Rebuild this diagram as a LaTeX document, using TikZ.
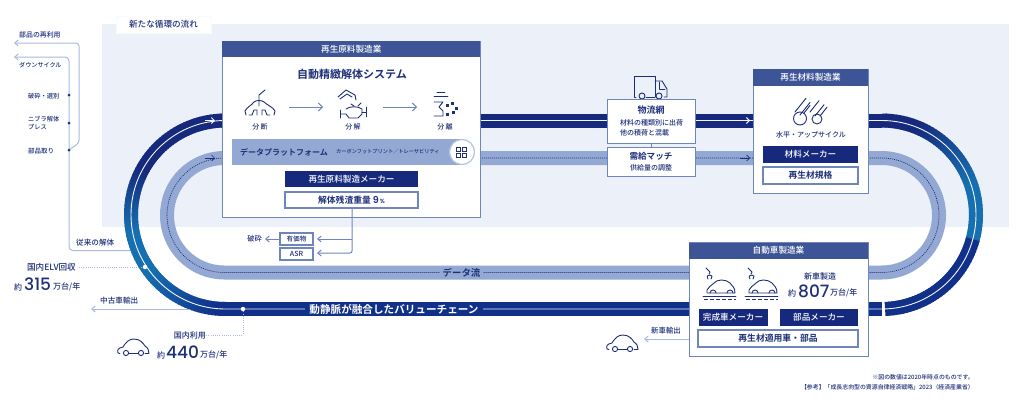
\documentclass[tikz,border=0pt]{standalone}
\usepackage{fontspec}
\setmainfont{Noto Sans CJK JP}[UprightFont=* Medium, BoldFont=* Bold]
\newfontfamily\numfont{Poppins}[UprightFont=* Medium, BoldFont=* SemiBold]
\usetikzlibrary{arrows.meta}

\definecolor{palebg}{HTML}{EBF0F9}
\definecolor{navytop}{HTML}{16297C}
\definecolor{navybot}{HTML}{10308A}
\definecolor{bluearc}{HTML}{1670B0}
\definecolor{midband}{HTML}{93A9D4}
\definecolor{headblue}{HTML}{3D5596}
\definecolor{edgeblue}{HTML}{6F86BB}
\definecolor{thinblue}{HTML}{A9B8DE}
\definecolor{txtnavy}{HTML}{1D2F78}

\def\fs#1{\fontsize{#1}{#1}\selectfont}

\tikzset{
  lab/.style={text=txtnavy, inner sep=0pt},
  plantbox/.style={draw=edgeblue, fill=white, line width=1pt},
  headbar/.style={fill=headblue, inner sep=0pt, text=white, font=\fs{8.6}},
  darkbox/.style={fill=navytop, inner sep=0pt, text=white, font=\fs{8.6}},
  whitebox/.style={draw=edgeblue, fill=white, line width=1.2pt, inner sep=0pt, text=txtnavy, font=\fs{8.8}\bfseries},
  iconline/.style={draw=txtnavy, line width=0.9pt, line cap=round, line join=round},
  thinline/.style={draw=thinblue, line width=1pt},
  thinarrow/.style={thinline, -{Straight Barb[length=3.5pt,width=6pt]}},
  dotline/.style={draw=thinblue, line width=1pt, dash pattern=on 1pt off 1.2pt},
  flowarrow/.style={draw=edgeblue, line width=1pt, -{Straight Barb[length=4pt,width=8pt]}},
  band/.style={line width=14pt},
  whiteline/.style={draw=white!85!thinblue, line width=0.9pt},
  dataline/.style={draw=txtnavy, line width=0.7pt, dash pattern=on 1pt off 1pt},
  bigdot/.style={circle, fill=white, inner sep=0pt, minimum size=4.5pt},
  smalldot/.style={circle, fill=txtnavy, inner sep=0pt, minimum size=3pt},
  pics/carside/.style={code={
    \draw[iconline] (3,15.5) -- (1,15) .. controls (0,12) and (1,10) .. (6,9)
       .. controls (9,4) and (12,1) .. (17,1) .. controls (23,1) and (26,5) .. (28,8)
       .. controls (31,10) and (32,12) .. (32,15.5) -- (28,15.5);
    \draw[iconline] (12,15) -- (21,15);
    \draw[iconline] (9,15) circle (2.6);
    \draw[iconline] (24,15) circle (2.6);
  }},
  pics/carbuild/.style={code={
    % arm
    \draw[iconline] (3,0) -- (7,4) -- (6,6);
    \draw[iconline] (5,11) .. controls (3,8) and (5,7) .. (7,7) .. controls (9,7) and (10,9) .. (8,11);
    % car
    \draw[iconline] (4,25) -- (4,22) .. controls (5,19) and (8,18) .. (11,15)
       .. controls (14,11) and (23,11) .. (27,15) .. controls (29,18) and (32,19) .. (32,25) -- (4,25);
    \draw[iconline] (7,25) arc (180:360:3);
    \draw[iconline] (24,25) arc (180:360:3);
    % line
    \draw[iconline] (0,28) -- (33,28);
    \draw[iconline, line cap=butt, dash pattern=on 4pt off 2pt] (1,31) -- (33,31);
  }}
}

\begin{document}
\begin{tikzpicture}[x=1pt, y=-1pt]
    \useasboundingbox (0,0) rectangle (1024,402);

    \def\cyo{214.75};
    \def\ro{94.25};
    \def\cxl{225.25};
    \def\cxr{881.75};

% new flow area
    \fill[palebg] (102,24) rectangle (1009,227);
    \node[draw=white!70!palebg, fill=white, line width=1pt, minimum width=95pt, minimum height=17pt, inner sep=0pt,
          text=txtnavy, font=\fs{8.6}] (flowtag) at (163.5,24.5) {新たな循環の流れ};

% old lines on the left
    \coordinate (reuseEnd) at (14,43);
    \coordinate (downEnd) at (14,57);
    \coordinate (bendTop) at (79,43);
    \coordinate (bendLow) at (79,143);
    \coordinate (partsDot) at (69,150);
    \coordinate (crushDot) at (69,95);
    \coordinate (nibDot) at (69,123);
    \coordinate (downCorner) at (69,57);
    \coordinate (oldCorner) at (69,250.5);
    \coordinate (oldEnd) at (130,250.5);

    \draw[thinarrow, rounded corners=3pt] (partsDot) -- (bendLow) -- (bendTop) -- (reuseEnd);
    \draw[thinarrow, rounded corners=4pt] (oldEnd) -- (oldCorner) -- (downCorner) -- (downEnd);

% outer loop
    \draw[band, navytop] (\cxl,120.5) -- (\cxr,120.5);
    \draw[band, navybot] (\cxl,309) -- (\cxr,309);
    \foreach \ang in {-90,-88,...,14} {
      \pgfmathsetmacro\mixv{max(0,min(100,(-\ang-20)*2))}
      \draw[band, navytop!\mixv!bluearc]
        ({\cxr+\ro*cos(\ang)},{\cyo+\ro*sin(\ang)}) -- ({\cxr+\ro*cos(\ang+3)},{\cyo+\ro*sin(\ang+3)});
    }
    \foreach \ang in {88,86,...,17} {
      \draw[band, navybot]
        ({\cxr+\ro*cos(\ang)},{\cyo+\ro*sin(\ang)}) -- ({\cxr+\ro*cos(\ang-3)},{\cyo+\ro*sin(\ang-3)});
    }
    \foreach \ang in {-90,-88,...,88} {
      \pgfmathsetmacro\mixa{max(0,min(100,(-\ang+10)*2.5))}
      \pgfmathsetmacro\mixb{max(0,min(100,(\ang-35)*2))}
      \colorlet{arcnow}{navytop!\mixa!bluearc}
      \draw[band, navybot!\mixb!arcnow]
        ({\cxl-\ro*cos(\ang)},{\cyo+\ro*sin(\ang)}) -- ({\cxl-\ro*cos(\ang+3)},{\cyo+\ro*sin(\ang+3)});
    }
    \draw[whiteline, rounded corners=94.25pt] (131,120.5) rectangle (976,309);

% inner loop
    \draw[band, midband, rounded corners=57.25pt] (167,158) rectangle (939,272.5);
    \draw[dataline, rounded corners=57.25pt] (167,158) rectangle (939,272.5);

% arrows on the loops
    \coordinate (outAa) at (205,120.5);
    \coordinate (outAb) at (215,120.5);
    \coordinate (outBa) at (740,120.5);
    \coordinate (outBb) at (750,120.5);
    \coordinate (innAa) at (205,158);
    \coordinate (innAb) at (215,158);
    \coordinate (innBa) at (740,158);
    \coordinate (innBb) at (750,158);
    \draw[draw=white!85!thinblue, line width=0.9pt, -{Straight Barb[length=3pt,width=6pt]}] (outAa) -- (outAb);
    \draw[draw=white!85!thinblue, line width=0.9pt, -{Straight Barb[length=3pt,width=6pt]}] (outBa) -- (outBb);
    \draw[draw=txtnavy, line width=0.6pt, -{Straight Barb[length=3pt,width=6pt]}] (innAa) -- (innAb);
    \draw[draw=txtnavy, line width=0.6pt, -{Straight Barb[length=3pt,width=6pt]}] (innBa) -- (innBb);

% flow names
    \node[fill=midband, inner xsep=3pt, inner ysep=0pt, text=txtnavy, font=\fs{9.4}\bfseries, text height=8.5pt, text depth=1pt] (dataname) at (461.5,272.5) {データ流};
    \node[fill=navybot, inner xsep=4pt, inner ysep=0pt, text=white, font=\fs{10.6}\bfseries, text height=9.5pt, text depth=1pt] (chainname) at (394,309) {動静脈が融合したバリューチェーン};

% left labels
    \node[lab, font=\fs{6.9}, anchor=west] (reuse) at (19,35) {部品の再利用};
    \node[lab, font=\fs{6.1}, anchor=west] (down) at (19,65) {ダウンサイクル};
    \node[lab, font=\fs{6.2}, anchor=west] (crush) at (28,96) {破砕・選別};
    \node[lab, font=\fs{6.2}, anchor=west, align=left] (nibler) at (28,123) {ニブラ解体\\[2pt]プレス};
    \node[lab, font=\fs{6.5}, anchor=west] (parts) at (28,151) {部品取り};
    \node[lab, font=\fs{7.6}, anchor=west] (oldway) at (76,243) {従来の解体};
    \node[smalldot] (crushmark) at (crushDot) {};
    \node[smalldot] (nibmark) at (nibDot) {};
    \node[smalldot] (partsmark) at (partsDot) {};

% domestic numbers
    \node[bigdot] (elvdot) at (145,267) {};
    \node[bigdot] (usedot) at (243,309) {};
    \node[lab, font=\fs{8.6}, anchor=east] (elv) at (76,267) {国内ELV回収};
    \draw[dotline] (elv.east)++(3,0) -- (elvdot);
    \node[lab, font=\fs{8}, anchor=west] (elvyaku) at (14,287) {約};
    \node[lab, font=\fs{17}\numfont, anchor=west] (elvnum) at (24,284) {315};
    \node[lab, font=\fs{8}, anchor=west] (elvunit) at (53,287) {万台/年};

    \coordinate (exportStart) at (190,309);
    \coordinate (exportEnd) at (91,309);
    \draw[thinarrow] (exportStart) -- (exportEnd);
    \node[lab, font=\fs{7.6}, anchor=west] (usedexp) at (100,301) {中古車輸出};

    \coordinate (useCorner) at (243,335);
    \node[lab, font=\fs{8}, anchor=east] (domuse) at (206,335) {国内利用};
    \draw[dotline] (usedot) -- (useCorner) -- (domuse.east);
    \pic at (117,338) {carside};
    \node[lab, font=\fs{8}, anchor=west] (useyaku) at (157,355) {約};
    \node[lab, font=\fs{17}\numfont, anchor=west] (usenum) at (166,352) {440};
    \node[lab, font=\fs{8}, anchor=west] (useunit) at (200,355) {万台/年};

% raw material plant
    \draw[plantbox] (222.5,41) rectangle (480,217);
    \coordinate (rawdrop) at (352,208);
    \coordinate (rawbend) at (352,253);
    \coordinate (valuable) at (352,239);
    \coordinate (valEnd) at (317,239);
    \coordinate (asrEnd) at (317,253);
    \coordinate (crushEnd) at (265,239);
    \draw[thinarrow, draw=edgeblue, rounded corners=2pt] (rawdrop) -- (rawbend) -- (asrEnd);
    \draw[thinarrow, draw=edgeblue] (valuable) -- (valEnd);

    \node[headbar, minimum width=258pt, minimum height=16.5pt] (rawhead) at (351.25,49) {再生原料製造業};
    \node[lab, font=\fs{11}\bfseries] (autotitle) at (352,74) {自動精緻解体システム};

    \node[lab, font=\fs{7}] (cutlab) at (260,127) {分\,断};
    \node[lab, font=\fs{7}] (splitlab) at (353,127) {分\,解};
    \node[lab, font=\fs{7}] (sortlab) at (445,127) {分\,離};
    \coordinate (stepAa) at (289,107);
    \coordinate (stepAb) at (323,107);
    \coordinate (stepBa) at (383,107);
    \coordinate (stepBb) at (417,107);
    \draw[flowarrow] (stepAa) -- (stepAb);
    \draw[flowarrow] (stepBa) -- (stepBb);

% cut icon
    \draw[iconline] (265,90) -- (259,95) -- (259,106);
    \draw[iconline] (246,115) -- (245,111) .. controls (247,107) and (252,105) .. (254,102) .. controls (256,100) and (262,100) .. (264,102)
        .. controls (267,105) and (273,107) .. (275,111) -- (274,115);
    \draw[iconline] (249,115) -- (252,115) -- (254,110) -- (257,110) -- (257,115);
    \draw[iconline] (270,115) -- (267,115) -- (265,110) -- (262,110) -- (262,115);

% split icon
    \draw[iconline] (338,97) -- (346,90) -- (355,95) -- (356,100);
    \draw[iconline] (340,99) -- (347,94) -- (352,97);
    \draw[iconline] (346,109) .. controls (350,106) and (358,106) .. (362,109) -- (362,114) -- (358,118) -- (349,118) -- (346,114) -- (341,114);
    \draw[iconline] (340,110) -- (340,118);
    \draw[iconline] (366,107) -- (366,117) (362,112) -- (366,112);
    \draw[iconline] (351,104) -- (354,106) (361,103) -- (358,106);

% sort icon
    \draw[iconline] (437,92) -- (445,92);
    \draw[iconline] (434,96) -- (448,96);
    \draw[iconline] (434,102) -- (443,102) -- (439,107) -- (443,111) -- (443,116) -- (434,116);
    \foreach \qx/\qy in {447/105, 452/103, 456/108, 447/114, 453/112} {
      \fill[txtnavy] (\qx-1.5,\qy-1.5) rectangle (\qx+1.5,\qy+1.5);
    }

% data platform
    \fill[midband] (232,139) rectangle (462,165);
    \node[circle, draw=midband!70!white, fill=white, line width=1.2pt, minimum size=25pt, inner sep=0pt] (qrring) at (462,152) {};
    \node[lab, font=\fs{8}\bfseries, anchor=west] (platform) at (240,152) {データプラットフォーム};
    \node[lab, font=\fs{5.2}, anchor=west] (carbon) at (336,152) {カーボンフットプリント／トレーサビリティ};
    \foreach \qx/\qy in {458/149, 464/149, 458/155, 464/155} {
      \draw[txtnavy, line width=0.9pt] (\qx-2,\qy-2) rectangle (\qx+2,\qy+2);
    }

    \node[darkbox, minimum width=133pt, minimum height=16pt] (rawmaker) at (351.5,179) {再生原料製造メーカー};
    \node[whitebox, minimum width=133pt, minimum height=16pt] (residue) at (351.5,200) {解体残渣重量\ \fs{9.5}\numfont\bfseries 9\fs{6}\,\%};

    \node[whitebox, font=\fs{6.6}, minimum width=33pt, minimum height=12pt] (valbox) at (296.5,239) {有価物};
    \node[whitebox, font=\fs{7}\mdseries, minimum width=33pt, minimum height=12pt] (asrbox) at (296.5,254) {ASR};
    \node[lab, font=\fs{7.2}, anchor=east] (crushlab) at (262,239) {破砕};
    \draw[thinarrow, draw=edgeblue] (valbox) -- (crushEnd);

% logistics
    \draw[iconline] (636,97) -- (634.5,97) -- (634.5,76.5) -- (655,76.5) -- (655,97);
    \draw[iconline] (655,81) -- (662,81) -- (667,89) -- (667,97) -- (664,97);
    \draw[iconline] (659,82) -- (659,89) -- (665,89);
    \draw[iconline] (646,97) -- (655,97);
    \node[circle, iconline, fill=palebg, inner sep=0pt, minimum size=6pt] (wheelA) at (642,96) {};
    \node[circle, iconline, fill=palebg, inner sep=0pt, minimum size=6pt] (wheelB) at (659,96) {};

    \node[plantbox, minimum width=88pt, minimum height=44pt, inner sep=0pt] (logibox) at (651,121) {};
    \node[plantbox, minimum width=88pt, minimum height=29pt, inner sep=0pt] (matchbox) at (651,161.5) {};
    \draw[edgeblue, line width=1pt] (logibox) -- (matchbox);
    \node[lab, font=\fs{9}\bfseries] (logititle) at (651,110) {物流網};
    \node[lab, font=\fs{7}, anchor=west, align=left] (logitext) at (620,128) {材料の種類別に出荷\\[2.5pt]他の積荷と混載};
    \node[lab, font=\fs{8.6}\bfseries] (matchtitle) at (651,156.5) {需給マッチ};
    \node[lab, font=\fs{7}] (matchtext) at (651,168) {供給量の調整};

% recycled material plant
    \draw[plantbox] (753,69) rectangle (868,193);
    \node[headbar, minimum width=115pt, minimum height=17pt] (mathead) at (810.5,77.5) {再生材料製造業};
    \node[circle, iconline, inner sep=0pt, minimum size=13pt] (tubeA) at (800,118.5) {};
    \node[circle, iconline, inner sep=0pt, minimum size=10pt] (tubeB) at (817,119) {};
    \foreach \tx/\ty/\tl in {795/112/11, 800/115/10, 804/113/6, 810/112/9, 815/116/9, 820/116/7} {
      \draw[iconline] (\tx,\ty) -- (\tx+\tl,\ty-\tl*1.25);
    }
    \node[lab, font=\fs{7}] (upcycle) at (811,135) {水平・アップサイクル};
    \node[darkbox, minimum width=95pt, minimum height=17pt] (matmaker) at (810.5,154.5) {材料メーカー};
    \node[whitebox, minimum width=95pt, minimum height=17pt] (matspec) at (810.5,175.5) {再生材規格};

% car plant
    \draw[plantbox] (689,242.5) rectangle (868,356);
    \coordinate (newExpEnd) at (644,339);
    \draw[thinarrow] (689,339) -- (newExpEnd);
    \node[headbar, minimum width=179pt, minimum height=16pt] (carhead) at (778.5,250.5) {自動車製造業};
    \pic at (703,268) {carbuild};
    \pic at (745,268) {carbuild};
    \node[lab, font=\fs{8}] (newbuild) at (820,276) {新車製造};
    \node[lab, font=\fs{8}, anchor=west] (newyaku) at (788,293) {約};
    \node[lab, font=\fs{17}\numfont, anchor=west] (newnum) at (798,291) {807};
    \node[lab, font=\fs{8}, anchor=west] (newunit) at (830,293) {万台/年};
    \node[darkbox, minimum width=69pt, minimum height=17pt] (finmaker) at (733,317) {完成車メーカー};
    \node[darkbox, minimum width=78pt, minimum height=17pt] (partmaker) at (819,317) {部品メーカー};
    \node[whitebox, minimum width=160pt, minimum height=17pt] (appcar) at (778,338.5) {再生材適用車・部品};

    \node[lab, font=\fs{7.4}, anchor=west] (newexp) at (651,331) {新車輸出};
    \pic at (606,334) {carside};

% notes
    \node[lab, font=\fs{5.9}, anchor=east] (noteA) at (974,377) {※図の数値は2020年時点のものです。};
    \node[lab, font=\fs{5.9}, anchor=east] (noteB) at (974,387) {【参考】「成長志向型の資源自律経済戦略」2023（経済産業省）};
\end{tikzpicture}
\end{document}
